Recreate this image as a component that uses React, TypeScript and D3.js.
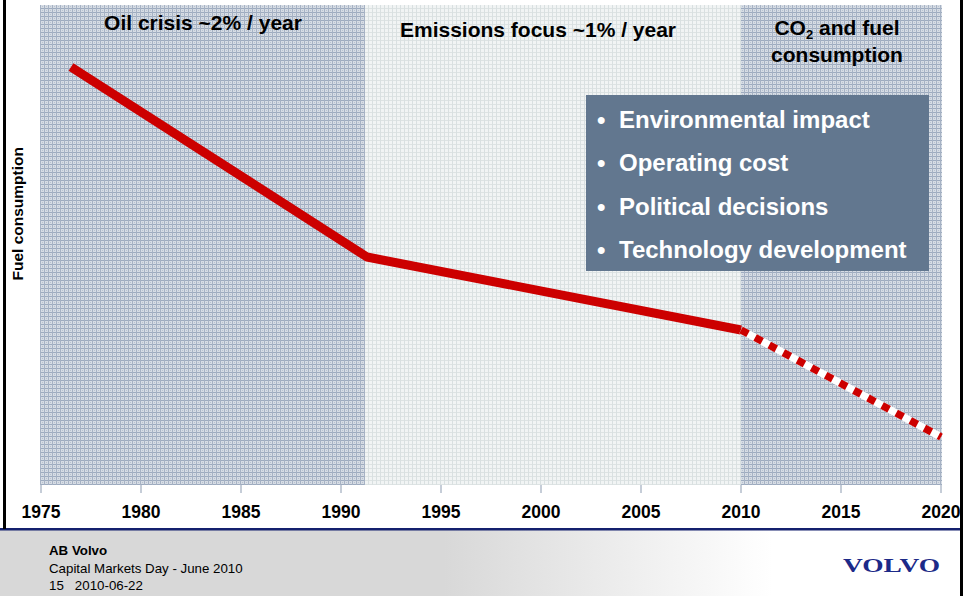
import React from 'react';
import * as d3 from 'd3';

// Chart data
const eraBands = [
  { from: 1975, to: 1991.2, kind: 'dark' },
  { from: 1991.2, to: 2010, kind: 'light' },
  { from: 2010, to: 2020, kind: 'dark' },
];
const historyYears = [1976.5, 1991.3, 2010];
const historyValues = [87.1, 47.5, 32.3];
const forecastYears = [2010, 2020];
const forecastValues = [32.3, 10];
const tickYears = [1975, 1980, 1985, 1990, 1995, 2000, 2005, 2010, 2015, 2020];
const drivers = ['Environmental impact', 'Operating cost', 'Political decisions', 'Technology development'];
const footerLines = ['Capital Markets Day - June 2010', '15   2010-06-22'];

const W = 965;
const H = 596;
const FONT = 'Arial, "Liberation Sans", Helvetica, sans-serif';

const App: React.FC = () => {
  const x = d3.scaleLinear().domain([1975, 2020]).range([41, 941]);
  const y = d3.scaleLinear().domain([0, 100]).range([485, 5]);
  const plotTop = 5;
  const plotBottom = 485;

  const line = d3.line<[number, number]>()
    .x(d => x(d[0]))
    .y(d => y(d[1]));

  const hist = historyYears.map((yr, i) => [yr, historyValues[i]] as [number, number]);
  const fc = forecastYears.map((yr, i) => [yr, forecastValues[i]] as [number, number]);

  return (
    <svg width={W} height={H} style={{ position: 'absolute', left: 0, top: 0, display: 'block' }}>
      <defs>
        <pattern id="darkGrid" width="4" height="4" patternUnits="userSpaceOnUse">
          <rect width="4" height="4" fill="#d6dce4" />
          <rect x="0" y="0" width="4" height="1" fill="#9dabbf" />
          <rect x="0" y="0" width="1" height="4" fill="#a6b2c4" />
          <rect x="2" y="2" width="1" height="1" fill="#b8c2d0" />
        </pattern>
        <pattern id="lightGrid" width="4" height="4" patternUnits="userSpaceOnUse">
          <rect width="4" height="4" fill="#f1f4f4" />
          <rect x="0" y="0" width="4" height="1" fill="#dde3e3" />
          <rect x="0" y="0" width="1" height="4" fill="#d9e0e1" />
        </pattern>
        <linearGradient id="footerGrad" x1="0" x2="1" y1="0" y2="0">
          <stop offset="0" stopColor="#d8d8d8" />
          <stop offset="0.46" stopColor="#d8d8d8" />
          <stop offset="0.8" stopColor="#ffffff" />
          <stop offset="1" stopColor="#ffffff" />
        </linearGradient>
      </defs>

      <rect width={W} height={H} fill="#ffffff" />

      {/* era backgrounds */}
      {eraBands.map((b, i) => (
        <rect
          key={i}
          x={i === 0 ? 40 : x(b.from)}
          y={plotTop}
          width={(i === eraBands.length - 1 ? 942 : x(b.to)) - (i === 0 ? 40 : x(b.from))}
          height={plotBottom - plotTop}
          fill={b.kind === 'dark' ? 'url(#darkGrid)' : 'url(#lightGrid)'}
        />
      ))}

      {/* era titles */}
      <g fontFamily={FONT} fontWeight="bold" fontSize={21} fill="#000" textAnchor="middle">
        <text x={203} y={30}>Oil crisis ~2% / year</text>
        <text x={538} y={37}>Emissions focus ~1% / year</text>
        <text x={837} y={35}>
          CO<tspan fontSize={13} dy={4}>2</tspan><tspan dy={-4}> and fuel</tspan>
        </text>
        <text x={837} y={62}>consumption</text>
      </g>

      {/* fuel consumption line */}
      <path d={line(hist) ?? ''} fill="none" stroke="#cc0000" strokeWidth={9} strokeLinejoin="round" />
      <path d={line(fc) ?? ''} fill="none" stroke="#ffffff" strokeWidth={7.5} />
      <path d={line(fc) ?? ''} fill="none" stroke="#cc0000" strokeWidth={7.5} strokeDasharray="8 8" />

      {/* drivers box */}
      <rect x={586} y={95} width={343} height={176} fill="#62778f" />
      <g fontFamily={FONT} fontWeight="bold" fontSize={24} fill="#ffffff">
        {drivers.map((d, i) => (
          <g key={d}>
            <text x={597} y={128 + i * 43.3}>{'\u2022'}</text>
            <text x={619} y={128 + i * 43.3}>{d}</text>
          </g>
        ))}
      </g>

      {/* y label */}
      <text
        transform={`translate(23, ${y(56.5)}) rotate(-90)`}
        fontFamily={FONT}
        fontWeight="bold"
        fontSize={15.5}
        textAnchor="middle"
      >
        Fuel consumption
      </text>

      {/* x axis */}
      <g>
        {tickYears.map(t => (
          <g key={t} transform={`translate(${x(t)},0)`}>
            <line y1={plotBottom} y2={plotBottom + 8} stroke="#8c9bb0" strokeWidth={1} />
            <text y={518} textAnchor="middle" fontFamily={FONT} fontWeight="bold" fontSize={17.5}>
              {t}
            </text>
          </g>
        ))}
      </g>

      {/* footer */}
      <rect x={0} y={530} width={W} height={H - 530} fill="url(#footerGrad)" />
      <rect x={0} y={528} width={962} height={2.5} fill="#14206e" />
      <g fontFamily={FONT} fontSize={13.3} fill="#000">
        <text x={49} y={555} fontWeight="bold">AB Volvo</text>
        {footerLines.map((l, i) => (
          <text key={l} x={49} y={573 + i * 17} style={{ whiteSpace: 'pre' }}>{l}</text>
        ))}
      </g>
      <text
        x={843}
        y={572}
        fontFamily='"Liberation Serif", "Times New Roman", serif'
        fontWeight="bold"
        fontSize={19}
        fill="#1c2a88"
        textLength={97}
        lengthAdjust="spacingAndGlyphs"
      >
        VOLVO
      </text>

      {/* side borders */}
      <rect x={3} y={0} width={3} height={529} fill="#000" />
      <rect x={960} y={0} width={3} height={H} fill="#000" />
    </svg>
  );
};

export default App;
